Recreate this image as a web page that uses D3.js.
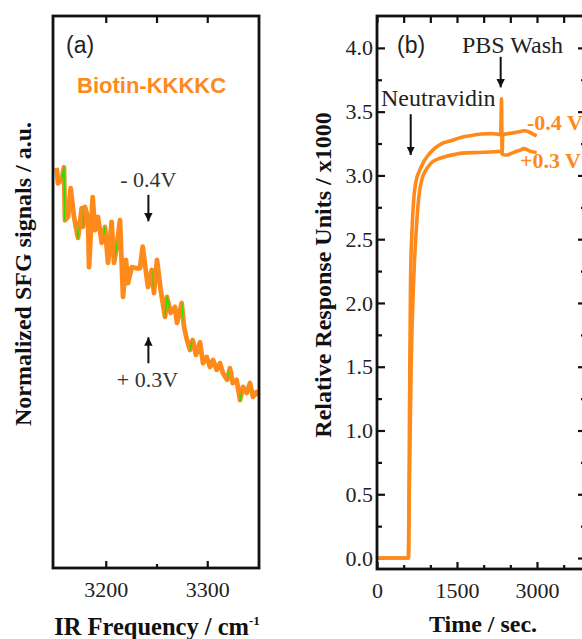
<!DOCTYPE html>
<html>
<head>
<meta charset="utf-8">
<script src="https://cdn.jsdelivr.net/npm/d3@7"></script>
<style>
  html, body { margin: 0; padding: 0; background: #fff; }
  svg { display: block; }
</style>
</head>
<body>
<svg id="chart" width="582" height="639"></svg>
<script>
// ---------- DATA ----------
// Panel (a): SFG spectrum (IR frequency in cm^-1, normalized signal)
const sfgFreq = [3151.6,3152.9,3156.6,3158.8,3159.8,3162.8,3165.4,3168.7,3172.6,3176.3,3177.6,3179.5,3182.5,3183.5,3187.1,3189.4,3192.3,3196.0,3199.2,3202.2,3205.8,3208.1,3210.8,3214.0,3217.0,3219.9,3221.9,3225.6,3230.5,3233.7,3236.4,3240.3,3241.6,3245.3,3247.5,3250.5,3254.1,3258.4,3260.3,3264.0,3268.2,3270.2,3274.8,3277.1,3280.0,3283.0,3285.7,3288.9,3292.9,3295.8,3299.5,3302.7,3305.7,3309.3,3312.6,3315.5,3319.5,3322.4,3325.1,3329.0,3332.3,3335.2,3338.9,3342.1,3345.1,3348.7,3350.5];
const sfgSignal = [0.725,0.697,0.703,0.726,0.630,0.636,0.688,0.636,0.598,0.652,0.618,0.654,0.634,0.545,0.672,0.612,0.636,0.589,0.618,0.553,0.627,0.553,0.582,0.630,0.491,0.558,0.516,0.545,0.543,0.543,0.582,0.527,0.509,0.540,0.498,0.558,0.504,0.455,0.491,0.462,0.473,0.444,0.480,0.437,0.413,0.395,0.413,0.386,0.409,0.371,0.382,0.364,0.377,0.359,0.371,0.353,0.341,0.362,0.335,0.341,0.304,0.328,0.317,0.335,0.310,0.319,0.312];
// frequency windows where the green trace shows through
const greenRanges = [[3157,3160],[3171.5,3173.5],[3177.3,3178.6],[3198,3199.3],[3209,3211],[3246,3247.3],[3258,3263],[3275,3276.3],[3283,3285.3],[3320,3321.3],[3332,3334]];
const xTicksA = [3200, 3300];
const xMinorA = [3250];

// Panel (b): SPR sensorgram (time in s, response units x1000)
const timeNeg = [0,590,600,615,630,660,690,730,800,880,962,1050,1213,1370,1588,1800,1963,2150,2320,2335,2345,2360,2500,2650,2760,2830,2900,2994];
const respNeg = [0,0,0.5,1.5,2.2,2.6,2.82,2.95,3.04,3.11,3.16,3.2,3.25,3.27,3.3,3.315,3.325,3.328,3.32,3.6,3.17,3.32,3.33,3.34,3.35,3.345,3.33,3.31];
const timePos = [0,590,605,640,690,740,790,850,900,962,1050,1149,1300,1462,1600,1894,2200,2338,2350,2432,2530,2619,2700,2744,2800,2869,2994];
const respPos = [0,0,0.5,1.5,2.2,2.6,2.85,2.98,3.03,3.07,3.11,3.13,3.15,3.165,3.175,3.18,3.185,3.19,3.165,3.16,3.175,3.19,3.2,3.21,3.205,3.19,3.18];
const xTicksB = [0, 1500, 3000];
const xMinorB = [500, 1000, 2000, 2500, 3500];
const yTicksB = [0, 0.5, 1.0, 1.5, 2.0, 2.5, 3.0, 3.5, 4.0];
const yMinorB = [0.25, 0.75, 1.25, 1.75, 2.25, 2.75, 3.25, 3.75];

// ---------- STYLE ----------
const ORANGE = "#ff8a1c";
const GREEN = "#22e000";
const SERIF = "'Liberation Serif','Times New Roman',serif";
const SANS = "'Liberation Sans',Arial,sans-serif";

const svg = d3.select("#chart");

// arrow marker
svg.append("defs").append("marker")
  .attr("id", "arr").attr("viewBox", "0 0 10 10")
  .attr("refX", 10).attr("refY", 5)
  .attr("markerWidth", 4.2).attr("markerHeight", 4.2)
  .attr("markerUnits", "strokeWidth")
  .attr("orient", "auto")
  .append("path").attr("d", "M0,0 L10,5 L0,10 z").attr("fill", "#111");

function styleAxis(g, size) {
  g.select(".domain").remove();
  g.selectAll(".tick line").attr("stroke", "#111").attr("stroke-width", 2.2);
  g.selectAll(".tick text").attr("font-family", SERIF).attr("font-size", size).attr("fill", "#222");
}

// ================= PANEL A =================
const A = {l: 53, r: 259, t: 16, b: 568};
const xa = d3.scaleLinear().domain([3148, 3351]).range([A.l, A.r]);
const ya = d3.scaleLinear().domain([0, 1]).range([A.b, A.t]);

const ga = svg.append("g");
ga.append("g").attr("transform", `translate(0,${A.b})`)
  .call(d3.axisBottom(xa).tickValues(xTicksA).tickFormat(d3.format("d")).tickSize(-7).tickPadding(13))
  .call(g => styleAxis(g, 22));
ga.append("g").attr("transform", `translate(0,${A.b})`)
  .call(d3.axisBottom(xa).tickValues(xMinorA).tickFormat("").tickSize(-4))
  .call(g => styleAxis(g, 22));
ga.append("g").attr("transform", `translate(0,${A.t})`)
  .call(d3.axisTop(xa).tickValues(xTicksA.concat(xMinorA)).tickFormat("").tickSize(-7))
  .call(g => styleAxis(g, 22));

const sfg = sfgFreq.map((f, i) => ({x: f, y: sfgSignal[i]}));
const lineA = d3.line().x(d => xa(d.x)).y(d => ya(d.y));
ga.append("path").datum(sfg).attr("d", lineA)
  .attr("fill", "none").attr("stroke", ORANGE).attr("stroke-width", 4.8).attr("stroke-linejoin", "round");

const clip = svg.select("defs").append("clipPath").attr("id", "greenClip");
clip.selectAll("rect").data(greenRanges).join("rect")
  .attr("x", d => xa(d[0])).attr("width", d => xa(d[1]) - xa(d[0]))
  .attr("y", A.t).attr("height", A.b - A.t);
ga.append("path").datum(sfg).attr("d", lineA).attr("clip-path", "url(#greenClip)")
  .attr("fill", "none").attr("stroke", GREEN).attr("stroke-width", 1.5).attr("stroke-linejoin", "round");

ga.append("rect").attr("x", A.l).attr("y", A.t).attr("width", A.r - A.l).attr("height", A.b - A.t)
  .attr("fill", "none").attr("stroke", "#111").attr("stroke-width", 2.8);

ga.append("text").attr("x", 66).attr("y", 53).text("(a)")
  .attr("font-family", SANS).attr("font-size", 23).attr("fill", "#222");
ga.append("text").attr("x", 77).attr("y", 93).text("Biotin-KKKKC")
  .attr("font-family", SANS).attr("font-weight", "bold").attr("font-size", 22).attr("fill", ORANGE);

// voltage annotations
ga.append("text").attr("x", xa(3242)).attr("y", ya(0.690)).attr("text-anchor", "middle").text("- 0.4V")
  .attr("font-family", SERIF).attr("font-size", 22).attr("fill", "#333");
ga.append("line").attr("x1", xa(3242)).attr("x2", xa(3242)).attr("y1", ya(0.676)).attr("y2", ya(0.628))
  .attr("stroke", "#111").attr("stroke-width", 2).attr("marker-end", "url(#arr)");
ga.append("text").attr("x", xa(3241)).attr("y", ya(0.328)).attr("text-anchor", "middle").text("+ 0.3V")
  .attr("font-family", SERIF).attr("font-size", 22).attr("fill", "#333");
ga.append("line").attr("x1", xa(3242)).attr("x2", xa(3242)).attr("y1", ya(0.371)).attr("y2", ya(0.418))
  .attr("stroke", "#111").attr("stroke-width", 2).attr("marker-end", "url(#arr)");

// axis titles A
ga.append("text").attr("transform", `translate(31,274) rotate(-90)`).attr("text-anchor", "middle")
  .text("Normalized SFG signals / a.u.")
  .attr("font-family", SERIF).attr("font-weight", "bold").attr("font-size", 24).attr("fill", "#111");
const ta = ga.append("text").attr("x", (A.l + A.r) / 2 + 1).attr("y", 635).attr("text-anchor", "middle")
  .attr("font-family", SERIF).attr("font-weight", "bold").attr("font-size", 24.5).attr("fill", "#111");
ta.append("tspan").text("IR Frequency / cm");
ta.append("tspan").attr("dy", -10).attr("font-size", 13).text("-1");

// ================= PANEL B =================
const B = {l: 377, r: 587, t: 16, b: 569};
const xb = d3.scaleLinear().domain([0, 3919]).range([B.l, 586]);
const yb = d3.scaleLinear().domain([-0.086, 4.25]).range([B.b, B.t]);

const gb = svg.append("g");
gb.append("g").attr("transform", `translate(0,${B.b})`)
  .call(d3.axisBottom(xb).tickValues(xTicksB).tickFormat(d3.format("d")).tickSize(-7).tickPadding(13))
  .call(g => styleAxis(g, 22));
gb.append("g").attr("transform", `translate(0,${B.b})`)
  .call(d3.axisBottom(xb).tickValues(xMinorB).tickFormat("").tickSize(-4))
  .call(g => styleAxis(g, 22));
gb.append("g").attr("transform", `translate(0,${B.t})`)
  .call(d3.axisTop(xb).tickValues(xTicksB.concat(xMinorB)).tickFormat("").tickSize(-7))
  .call(g => styleAxis(g, 22));
gb.append("g").attr("transform", `translate(${B.l},0)`)
  .call(d3.axisLeft(yb).tickValues(yTicksB).tickFormat(d3.format(".1f")).tickSize(-8).tickPadding(4))
  .call(g => styleAxis(g, 22));
gb.append("g").attr("transform", `translate(${B.l},0)`)
  .call(d3.axisLeft(yb).tickValues(yMinorB).tickFormat("").tickSize(-5))
  .call(g => styleAxis(g, 22));
gb.append("g").attr("transform", `translate(${B.r},0)`)
  .call(d3.axisRight(yb).tickValues(yTicksB).tickFormat("").tickSize(-9))
  .call(g => styleAxis(g, 22));
gb.append("g").attr("transform", `translate(${B.r},0)`)
  .call(d3.axisRight(yb).tickValues(yMinorB).tickFormat("").tickSize(-6))
  .call(g => styleAxis(g, 22));

const lineB = d3.line().x(d => xb(d.x)).y(d => yb(d.y)).curve(d3.curveMonotoneX);
const neg = timeNeg.map((t, i) => ({x: t, y: respNeg[i]}));
const pos = timePos.map((t, i) => ({x: t, y: respPos[i]}));
[pos, neg].forEach(series => {
  gb.append("path").datum(series).attr("d", lineB)
    .attr("fill", "none").attr("stroke", ORANGE).attr("stroke-width", 3.6).attr("stroke-linejoin", "round");
});

gb.append("rect").attr("x", B.l).attr("y", B.t).attr("width", B.r - B.l).attr("height", B.b - B.t)
  .attr("fill", "none").attr("stroke", "#111").attr("stroke-width", 2.8);

gb.append("text").attr("x", 397).attr("y", 53).text("(b)")
  .attr("font-family", SANS).attr("font-size", 23).attr("fill", "#222");

gb.append("text").attr("x", xb(75)).attr("y", yb(3.545)).text("Neutravidin")
  .attr("font-family", SERIF).attr("font-size", 24).attr("fill", "#222");
gb.append("line").attr("x1", xb(632)).attr("x2", xb(632)).attr("y1", yb(3.48)).attr("y2", yb(3.16))
  .attr("stroke", "#111").attr("stroke-width", 2).attr("marker-end", "url(#arr)");
gb.append("text").attr("x", xb(1594)).attr("y", yb(3.96)).text("PBS Wash")
  .attr("font-family", SERIF).attr("font-size", 24).attr("fill", "#222");
gb.append("line").attr("x1", xb(2319)).attr("x2", xb(2319)).attr("y1", yb(3.93)).attr("y2", yb(3.69))
  .attr("stroke", "#111").attr("stroke-width", 2).attr("marker-end", "url(#arr)");

gb.append("text").attr("x", xb(2812)).attr("y", yb(3.357)).text("-0.4 V")
  .attr("font-family", SERIF).attr("font-weight", "bold").attr("font-size", 22).attr("fill", ORANGE);
gb.append("text").attr("x", xb(2681)).attr("y", yb(3.059)).text("+0.3 V")
  .attr("font-family", SERIF).attr("font-weight", "bold").attr("font-size", 22).attr("fill", ORANGE);

gb.append("text").attr("transform", `translate(331,275) rotate(-90)`).attr("text-anchor", "middle")
  .text("Relative Response Units / x1000")
  .attr("font-family", SERIF).attr("font-weight", "bold").attr("font-size", 24).attr("fill", "#111");
gb.append("text").attr("x", 483).attr("y", 632).attr("text-anchor", "middle").text("Time / sec.")
  .attr("font-family", SERIF).attr("font-weight", "bold").attr("font-size", 24).attr("fill", "#111");
</script>
</body>
</html>
